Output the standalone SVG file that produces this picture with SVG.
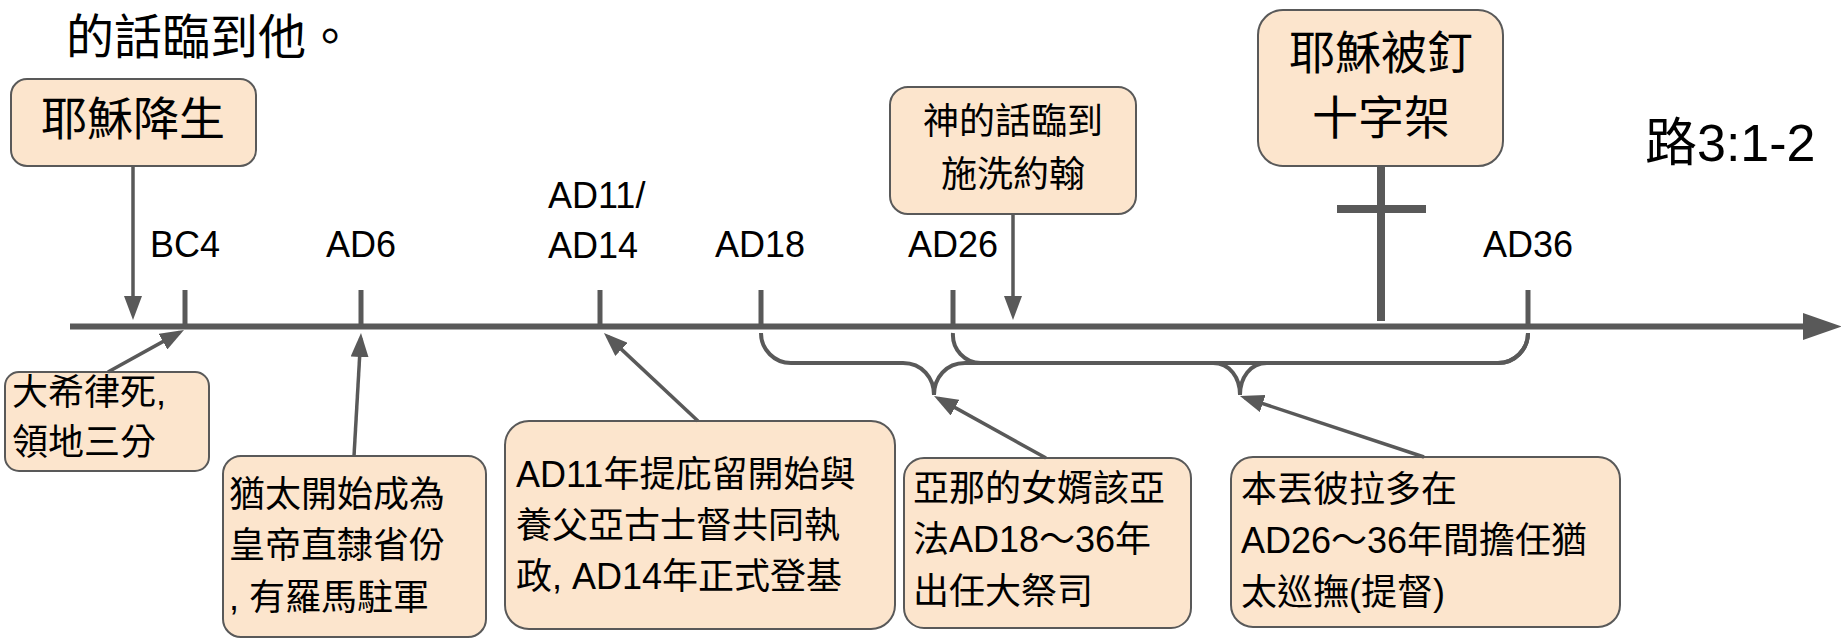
<svg xmlns="http://www.w3.org/2000/svg" width="1841" height="639" viewBox="0 0 1841 639">
<style>
.box{fill:#fce5cd;stroke:#595959;stroke-width:2}
.t{font-family:"Liberation Sans","Noto Sans CJK TC",sans-serif;fill:#000}
.c{text-anchor:middle}
.ln{stroke:#595959;stroke-width:3.5;fill:none}
.tick{stroke:#595959;stroke-width:5;fill:none}
.br{stroke:#595959;stroke-width:4;fill:none}
</style>
<defs>
<marker id="ah" viewBox="0 0 24 18" refX="19" refY="9" markerWidth="24" markerHeight="18" markerUnits="userSpaceOnUse" orient="auto">
<path d="M0,0 L24,9 L0,18 z" fill="#595959"/>
</marker>
<marker id="big" viewBox="0 0 39 27" refX="4" refY="13.5" markerWidth="39" markerHeight="27" markerUnits="userSpaceOnUse" orient="auto">
<path d="M0,0 L39,13.5 L0,27 z" fill="#595959"/>
</marker>
</defs>

<text class="t" x="66" y="54" font-size="48">的話臨到他。</text>
<text class="t" x="1645" y="161" font-size="52">路3:1-2</text>

<g id="axis">
<line x1="70" y1="326.5" x2="1807" y2="326.5" stroke="#595959" stroke-width="6" marker-end="url(#big)"/>
<line class="tick" x1="185" y1="290" x2="185" y2="326"/>
<line class="tick" x1="361" y1="290" x2="361" y2="326"/>
<line class="tick" x1="600" y1="290" x2="600" y2="326"/>
<line class="tick" x1="761" y1="290" x2="761" y2="326"/>
<line class="tick" x1="953" y1="290" x2="953" y2="326"/>
<line class="tick" x1="1528" y1="290" x2="1528" y2="326"/>
</g>

<g id="labels" class="t" font-size="36">
<text class="c" x="185" y="257">BC4</text>
<text class="c" x="361" y="257">AD6</text>
<text x="548" y="208">AD11/</text>
<text x="548" y="258">AD14</text>
<text class="c" x="760" y="257">AD18</text>
<text class="c" x="953" y="257">AD26</text>
<text class="c" x="1528" y="257">AD36</text>
</g>

<g id="birth">
<rect class="box" x="11" y="79" width="245" height="87" rx="16"/>
<text class="t c" x="133" y="135" font-size="46">耶穌降生</text>
</g>

<g id="word">
<rect class="box" x="890" y="87" width="246" height="127" rx="18"/>
<text class="t c" x="1013" y="134" font-size="36">神的話臨到</text>
<text class="t c" x="1013" y="187" font-size="36">施洗約翰</text>
</g>

<g id="cross">
<rect class="box" x="1258" y="10" width="245" height="156" rx="25"/>
<text class="t c" x="1381" y="69" font-size="46">耶穌被釘</text>
<text class="t c" x="1381" y="134" font-size="46">十字架</text>
</g>

<g id="herod">
<rect class="box" x="5" y="372" width="204" height="99" rx="14"/>
<text class="t" x="12" y="405" font-size="36">大希律死,</text>
<text class="t" x="12" y="455" font-size="36">領地三分</text>
</g>

<g id="judea">
<rect class="box" x="223" y="456" width="263" height="181" rx="18"/>
<text class="t" x="229" y="507" font-size="36">猶太開始成為</text>
<text class="t" x="229" y="558" font-size="36">皇帝直隸省份</text>
<text class="t" x="229" y="610" font-size="36">, 有羅馬駐軍</text>
</g>

<g id="tiberius">
<rect class="box" x="505" y="421" width="390" height="208" rx="24"/>
<text class="t" x="516" y="487" font-size="36">AD11年提庇留開始與</text>
<text class="t" x="516" y="538" font-size="36">養父亞古士督共同執</text>
<text class="t" x="516" y="589" font-size="36">政, AD14年正式登基</text>
</g>

<g id="caiaphas">
<rect class="box" x="904" y="458" width="287" height="170" rx="20"/>
<text class="t" x="913" y="501" font-size="36">亞那的女婿該亞</text>
<text class="t" x="913" y="552" font-size="36">法AD18～36年</text>
<text class="t" x="913" y="604" font-size="36">出任大祭司</text>
</g>

<g id="pilate">
<rect class="box" x="1231" y="457" width="389" height="170" rx="22"/>
<text class="t" x="1241" y="502" font-size="36">本丟彼拉多在</text>
<text class="t" x="1241" y="553" font-size="36">AD26～36年間擔任猶</text>
<text class="t" x="1241" y="605" font-size="36">太巡撫(提督)</text>
</g>

<g id="connectors">
<line class="ln" x1="133" y1="166" x2="133" y2="315" marker-end="url(#ah)"/>
<line class="ln" x1="1013" y1="214" x2="1013" y2="315" marker-end="url(#ah)"/>
<line x1="1381" y1="166" x2="1381" y2="321" stroke="#595959" stroke-width="8"/>
<line x1="1337" y1="209" x2="1426" y2="209" stroke="#595959" stroke-width="8"/>
<line class="ln" x1="108" y1="372" x2="179.6" y2="332.4" marker-end="url(#ah)"/>
<line class="ln" x1="354" y1="456" x2="360.7" y2="338" marker-end="url(#ah)"/>
<line class="ln" x1="698" y1="421" x2="607.6" y2="336.4" marker-end="url(#ah)"/>
<line class="ln" x1="1046" y1="458" x2="938.4" y2="398.4" marker-end="url(#ah)"/>
<line class="ln" x1="1424" y1="457" x2="1244.7" y2="397.6" marker-end="url(#ah)"/>
<path class="br" d="M761,333 A30,30 0 0 0 791,363 H903 C922,363 934,378 934,395 C934,378 946,363 965,363 H1498 A30,30 0 0 0 1528,333"/>
<path class="br" d="M953,333 A28,28 0 0 0 981,363 H1213 C1230,363 1240,378 1240,395 C1240,378 1250,363 1267,363 H1498 A30,30 0 0 0 1528,333"/>
</g>
</svg>
